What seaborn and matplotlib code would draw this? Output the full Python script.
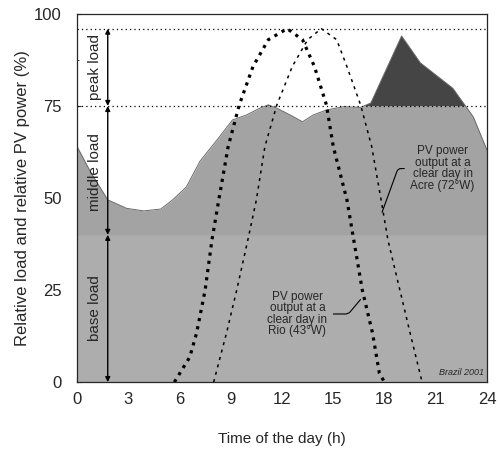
import numpy as np
import pandas as pd
import seaborn as sns
import matplotlib.pyplot as plt
from matplotlib.ticker import MultipleLocator

#--Data
load_h = [0, 0.8, 1.8, 2.9, 3.9, 4.9, 5.6, 6.4, 7.2, 8.2, 9.1, 9.9, 10.7, 11.2, 11.7,
          12.5, 13.2, 13.8, 14.6, 15.6, 16.6, 17.2, 19.0, 20.1, 22.0, 23.2, 24]
load_v = [64, 57, 49.5, 47.2, 46.5, 47, 49.5, 53, 60, 65.8, 71.2, 72.5, 74.4, 75.3, 74.4,
          72.5, 70.7, 72.5, 73.9, 74.8, 74.6, 75.8, 94, 86.7, 79.8, 72, 63]

rio_h = [5.7, 6.6, 7.0, 7.5, 7.9, 8.3, 8.85, 9.5, 10.3, 11.2, 12.3, 13.2, 13.9, 14.6,
         15.0, 15.8, 16.2, 16.7, 17.3, 17.7, 18.0]
rio_v = [0, 6.8, 13.3, 25, 38.6, 49.5, 64, 75.3, 85.7, 93, 96, 93, 85.7, 75.3,
         64, 49.5, 38.6, 25, 13.3, 2.4, 0]

acre_h = [8.0, 8.75, 9.35, 10.0, 10.5, 11.0, 11.7, 12.6, 13.5, 14.3, 15.2, 15.8, 16.6,
          17.25, 17.8, 18.2, 18.9, 19.5, 20.2]
acre_v = [0, 13.3, 25, 38.6, 49.5, 64, 75.3, 85.7, 93, 96, 93, 85.7, 75.3,
          64, 49.5, 38.6, 25, 13.3, 0]

base_level = 40
middle_level = 75
peak_level = 96

df_load = pd.DataFrame({'hour': load_h, 'load': load_v})
df_rio = pd.DataFrame({'hour': rio_h, 'pv': rio_v})
df_acre = pd.DataFrame({'hour': acre_h, 'pv': acre_v})

#--Plot
sns.set_style('ticks')
plt.rcParams['font.family'] = ['Liberation Sans', 'DejaVu Sans']

fig = plt.figure(figsize=(5, 4.49), dpi=100)
ax = fig.add_axes([0.154, 0.149, 0.82, 0.82])

h = np.array(load_h)
v = np.array(load_v)
#Base / middle / peak areas
ax.fill_between(h, 0, np.minimum(v, base_level), color='#adadad', lw=0)
ax.fill_between(h, base_level, v, color='#a3a3a3', lw=0)
ax.fill_between(h, middle_level, v, where=v >= middle_level, interpolate=True,
                color='#454545', lw=0)
sns.lineplot(data=df_load, x='hour', y='load', ax=ax, color='#6a6a6a', lw=0.7)

#Load level lines
ax.axhline(middle_level, color='black', ls=(0, (1, 2.5)), lw=0.9)
ax.axhline(peak_level, color='black', ls=(0, (1, 2.5)), lw=0.9)

#PV curves
sns.lineplot(data=df_rio, x='hour', y='pv', ax=ax, color='black',
             ls=(0, (1, 1.6)), lw=2.3)
sns.lineplot(data=df_acre, x='hour', y='pv', ax=ax, color='black',
             ls=(0, (2, 3)), lw=1.1)

#Arrows for load levels
arr = dict(arrowstyle='<|-|>', color='black', lw=1, mutation_scale=7, shrinkA=0, shrinkB=0)
ax.annotate('', xy=(1.8, peak_level), xytext=(1.8, middle_level), arrowprops=arr)
ax.annotate('', xy=(1.8, middle_level), xytext=(1.8, base_level), arrowprops=arr)
ax.annotate('', xy=(1.8, base_level), xytext=(1.8, 0), arrowprops=arr)
ax.text(1.05, 85.5, 'peak load', rotation=90, ha='center', va='center', fontsize=11)
ax.text(1.05, 57, 'middle load', rotation=90, ha='center', va='center', fontsize=11)
ax.text(1.05, 20, 'base load', rotation=90, ha='center', va='center', fontsize=11)

#Annotations
ax.annotate('PV power\noutput at a\nclear day in\nAcre (72°W)', xy=(17.8, 45.4),
            xytext=(21.4, 58), ha='center', va='center', fontsize=8.5, linespacing=0.95,
            arrowprops=dict(arrowstyle='-', color='black', lw=0.8,
                            connectionstyle='angle,angleA=0,angleB=70,rad=3'))
ax.annotate('PV power\noutput at a\nclear day in\nRio (43°W)', xy=(16.7, 23),
            xytext=(12.9, 18.5), ha='center', va='center', fontsize=8.5, linespacing=0.95,
            arrowprops=dict(arrowstyle='-', color='black', lw=0.8,
                            connectionstyle='angle,angleA=0,angleB=50,rad=3'))
ax.text(23.8, 1.5, 'Brazil 2001', ha='right', va='bottom', fontsize=6.5, style='italic')

ax.set_xlim(0, 24)
ax.set_ylim(0, 100)
ax.xaxis.set_major_locator(MultipleLocator(3))
ax.xaxis.set_minor_locator(MultipleLocator(1.5))
ax.yaxis.set_major_locator(MultipleLocator(25))
ax.yaxis.set_minor_locator(MultipleLocator(12.5))
ax.tick_params(which='major', direction='in', length=3, width=0.8, labelsize=12)
ax.tick_params(axis='x', which='major', pad=7)
ax.tick_params(axis='y', which='major', pad=11)
ax.tick_params(which='minor', direction='in', length=1.5, width=0.6)
for s in ax.spines.values():
    s.set_linewidth(0.9)
ax.set_xlabel('Time of the day (h)', fontsize=11, labelpad=18)
ax.set_ylabel('Relative load and relative PV power (%)', fontsize=12, labelpad=3)

plt.savefig('out.png', dpi=100)
plt.close()
